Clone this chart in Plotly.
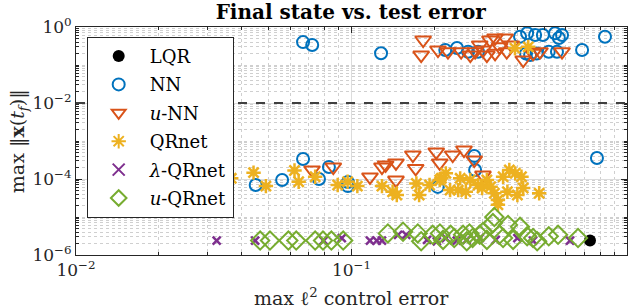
import plotly.graph_objects as go

# ---------------- data ----------------
lqr_x = [0.734]
lqr_y = [2.4e-6]

nn_x = [0.128, 0.0667, 0.072, 0.219, 0.2415, 0.265, 0.288, 0.409, 0.434, 0.464,
        0.495, 0.548, 0.581, 0.566, 0.557, 0.52, 0.687, 0.832, 0.445, 0.43, 0.47,
        0.0449, 0.056, 0.0667, 0.0762, 0.0828, 0.097, 0.097, 0.2056, 0.279, 0.281, 0.778]
nn_y = [0.203, 0.40, 0.336, 0.248, 0.28, 0.224, 0.224, 0.556, 0.683, 0.616,
        0.616, 0.683, 0.616, 0.514, 0.224, 0.224, 0.248, 0.556, 0.183, 0.20, 0.20,
        6.95e-5, 9.4e-5, 3.36e-4, 1.0e-4, 2.07e-4, 8.3e-5, 6.5e-5, 6.2e-5, 4.03e-4, 1.73e-4, 3.57e-4]

unn_x = [0.182, 0.179, 0.206, 0.224, 0.281, 0.292, 0.30, 0.318, 0.332, 0.345,
         0.361, 0.366, 0.332, 0.31, 0.27, 0.42, 0.456, 0.483, 0.581, 0.25, 0.38,
         0.0719, 0.0859, 0.1167, 0.129, 0.133, 0.145, 0.145, 0.167, 0.171, 0.203,
         0.209, 0.233, 0.256, 0.279, 0.30]
unn_y = [0.455, 0.183, 0.248, 0.224, 0.224, 0.336, 0.248, 0.455, 0.514, 0.30,
         0.514, 0.224, 0.203, 0.183, 0.183, 0.1355, 0.203, 0.224, 0.224, 0.224, 0.336,
         1.73e-4, 2.07e-4, 1.13e-4, 2.07e-4, 2.34e-4, 2.64e-4, 9.4e-5, 4.28e-4, 1.9e-4, 5.14e-4,
         2.64e-4, 4.28e-4, 5.8e-4, 3.16e-4, 1.27e-4]

qr_x = [0.392, 0.438,
        0.0366, 0.0441, 0.0489, 0.0621, 0.0643, 0.0738, 0.0891, 0.0968, 0.105, 0.129,
        0.141, 0.146, 0.176, 0.192, 0.209, 0.22, 0.228, 0.244, 0.248, 0.26, 0.27,
        0.288, 0.298, 0.31, 0.32, 0.33, 0.34, 0.355, 0.368, 0.374, 0.393, 0.414,
        0.42, 0.40, 0.48, 0.34, 0.172, 0.212]
qr_y = [0.275, 0.30,
        1.04e-4, 1.47e-4, 6.5e-5, 1.68e-4, 8.5e-5, 1.15e-4, 6.95e-5, 8.5e-5, 6.5e-5, 6.5e-5,
        4.6e-5, 3.8e-5, 3.8e-5, 6.95e-5, 9.4e-5, 1.41e-4, 5.1e-5, 5.1e-5, 1.04e-4, 4.6e-5, 9.4e-5,
        6.95e-5, 5.8e-5, 9.4e-5, 6.3e-5, 4.2e-5, 2.8e-5, 1.15e-4, 4.6e-5, 1.73e-4, 1.41e-4, 1.15e-4,
        5.8e-5, 3.8e-5, 4.2e-5, 2.1e-5, 7.6e-5, 1.04e-4]

lqrnet_x = [0.0324, 0.0447, 0.0792, 0.0922, 0.1167, 0.1235, 0.129, 0.1476, 0.158,
            0.188, 0.204, 0.22, 0.241, 0.262, 0.292, 0.334, 0.40, 0.456, 0.621]
lqrnet_y = [2.4e-6, 2.4e-6, 2.4e-6, 2.8e-6, 2.4e-6, 2.4e-6, 2.4e-6, 3.4e-6, 3.4e-6,
            2.5e-6, 2.3e-6, 2.8e-6, 2.4e-6, 2.5e-6, 2.8e-6, 2.5e-6, 2.8e-6, 2.4e-6, 2.4e-6]

uqr_x = [0.0466, 0.0506, 0.059, 0.063, 0.0738, 0.0788, 0.0845, 0.0933, 0.1355, 0.1538,
         0.174, 0.179, 0.197, 0.2094, 0.215, 0.229, 0.254, 0.262, 0.275, 0.292, 0.31,
         0.326, 0.33, 0.344, 0.37, 0.386, 0.409, 0.434, 0.456, 0.472, 0.52, 0.562, 0.664,
         0.236, 0.268, 0.30, 0.355]
uqr_y = [2.4e-6, 2.4e-6, 2.4e-6, 2.4e-6, 2.4e-6, 2.4e-6, 2.4e-6, 2.4e-6, 3.7e-6, 4.1e-6,
         3.7e-6, 2.3e-6, 3.4e-6, 3.7e-6, 2.5e-6, 3.4e-6, 3.4e-6, 2.3e-6, 2.8e-6, 3.4e-6, 2.5e-6,
         6.9e-6, 1.0e-5, 3.4e-6, 6.2e-6, 2.5e-6, 5.5e-6, 3.1e-6, 2.8e-6, 2.3e-6, 3.1e-6, 3.4e-6, 2.8e-6,
         2.8e-6, 3.7e-6, 4.0e-6, 2.8e-6]

threshold = 1e-2

x_tickvals = [1e-2, 1e-1, 1e0]
x_ticktext = ["10<sup>\u22122</sup>", "10<sup>\u22121</sup>", "10<sup>0</sup>"]
y_tickvals = [1e-6, 1e-4, 1e-2, 1e0]
y_ticktext = ["10<sup>\u22126</sup>", "10<sup>\u22124</sup>", "10<sup>\u22122</sup>", "10<sup>0</sup>"]

# ---------------- styling ----------------
FONT = "DejaVu Serif"
BLUE = "#0072BD"
ORANGE = "#D95319"
YELLOW = "#EDB120"
PURPLE = "#7E2F8E"
GREEN = "#77AC30"
INK = "#262626"

fig = go.Figure()

def add(name, xs, ys, symbol, color, size, lw, group):
    fig.add_trace(go.Scatter(
        x=xs, y=ys, mode="markers", name=name, legendgroup=group,
        marker=dict(symbol=symbol, size=size, color=color,
                    line=dict(color=color, width=lw)),
    ))

add("LQR", lqr_x, lqr_y, "circle", "black", 12, 0, "a")
add("NN", nn_x, nn_y, "circle-open", BLUE, 12, 2, "b")
add("<i>u</i>-NN", unn_x, unn_y, "triangle-down-open", ORANGE, 14, 2, "c")
add("QRnet", qr_x, qr_y, "asterisk-open", YELLOW, 12, 2.5, "d")
add("<i>\u03bb</i>-QRnet", lqrnet_x, lqrnet_y, "x-thin-open", PURPLE, 8, 2.5, "e")
add("<i>u</i>-QRnet", uqr_x, uqr_y, "diamond-open", GREEN, 14, 2, "f")

fig.add_hline(y=threshold, line=dict(color="#404040", width=2, dash="dash"))

# minor tick positions (2..9 within each decade)
x_minor = [m * 10.0 ** e for e in (-2, -1) for m in range(2, 10)]
y_minor = [m * 10.0 ** e for e in range(-6, 0) for m in range(1, 10) if not (m == 1 and e % 2 == 0)]

axis_common = dict(
    type="log", showline=True, linecolor=INK, linewidth=1, mirror="ticks",
    ticks="inside", ticklen=6, tickcolor=INK, automargin=False,
    showgrid=True, gridcolor="#dcdcdc", gridwidth=1,
    tickfont=dict(family=FONT, size=17, color=INK),
    zeroline=False,
)

fig.update_xaxes(
    **axis_common, range=[-2, 0], tickmode="array",
    tickvals=x_tickvals, ticktext=x_ticktext,
    minor=dict(tickmode="array", tickvals=x_minor, ticks="inside", ticklen=3,
               tickcolor=INK, showgrid=True, gridcolor="#cfcfcf", griddash="dot"),
)
fig.update_yaxes(
    **axis_common, range=[-6, 0], tickmode="array",
    tickvals=y_tickvals, ticktext=y_ticktext,
    minor=dict(tickmode="array", tickvals=y_minor, ticks="inside", ticklen=3,
               tickcolor=INK, showgrid=True, gridcolor="#cfcfcf", griddash="dot"),
)

# axis titles as annotations so they sit exactly where the reference has them
fig.add_annotation(
    text="max \u2113<sup>2</sup> control error", xref="paper", yref="paper",
    x=0.5, y=-0.185, xanchor="center", yanchor="middle", showarrow=False,
    font=dict(family=FONT, size=19, color=INK),
)
fig.add_annotation(
    text="max \u2016<b>x</b>(<i>t</i><sub><i>f</i></sub>)\u2016", xref="paper", yref="paper",
    x=-0.105, y=0.5, xanchor="center", yanchor="middle", showarrow=False, textangle=-90,
    font=dict(family=FONT, size=19, color=INK),
)

fig.update_layout(
    width=640, height=308,
    margin=dict(l=76, r=13, t=27, b=53),
    paper_bgcolor="white", plot_bgcolor="white",
    title=dict(text="<b>Final state vs. test error</b>", x=0.548, xanchor="center",
               y=0.9627, yanchor="middle", yref="container",
               font=dict(family=FONT, size=20, color="black")),
    legend=dict(x=0.0194, y=0.957, xanchor="left", yanchor="top",
                bgcolor="white", bordercolor=INK, borderwidth=1,
                font=dict(family=FONT, size=18, color="black"),
                tracegroupgap=2, itemsizing="constant", itemwidth=52),
    showlegend=True,
)

# remove the browser's default 8px page margin so the figure starts at the window corner
fig.write_html("out.html", config={"displayModeBar": False},
               post_script="document.body.style.margin='0';document.body.style.overflow='hidden';")
